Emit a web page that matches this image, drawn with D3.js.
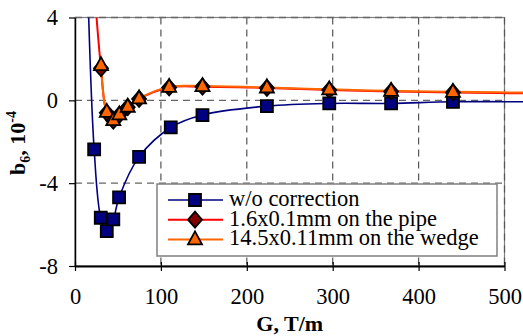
<!DOCTYPE html>
<html>
<head>
<meta charset="utf-8">
<script src="https://cdn.jsdelivr.net/npm/d3@7"></script>
<style>
    body { margin: 0; background: #fff; }
    svg { display: block; }
    svg text { font-family: 'Liberation Serif', 'Times New Roman', serif; }
</style>
</head>
<body>
<div id="chart"></div>
<script>
// G, T/m  and  b6 (units of 1e-4); first/last points lie outside the visible frame
const gBlue = [15, 22.3, 30, 37, 44.6, 51.3, 74.6, 111.5, 148.4, 223.4, 296, 368, 440, 560];
const bBlue = [5.3, -2.37, -5.67, -6.32, -5.75, -4.69, -2.73, -1.31, -0.71, -0.28, -0.15, -0.15, -0.07, -0.08];

const gRed = [22.3, 30.3, 37, 44.6, 51.6, 61.4, 74.6, 109.6, 148.4, 223.4, 296, 368, 440, 560];
const bRed = [5.5, 1.55, -0.6, -0.98, -0.7, -0.33, 0.07, 0.62, 0.66, 0.6, 0.5, 0.43, 0.38, 0.32];

const gOrange = [30.3, 37, 44.6, 51.6, 61.4, 74.6, 109.6, 148.4, 223.4, 296, 368, 440, 560];
const bOrange = [1.7, -0.56, -0.96, -0.68, -0.31, 0.09, 0.65, 0.69, 0.62, 0.53, 0.46, 0.41, 0.36];

const seriesNames = ['w/o correction', '1.6x0.1mm on the pipe', '14.5x0.11mm on the wedge'];
const xTicks = [0, 100, 200, 300, 400, 500];
const yTicks = [-8, -4, 0, 4];

const width = 523, height = 336;
const plot = { left: 75, right: 504.5, top: 17.5, bottom: 266 };

const svg = d3.select('#chart').append('svg')
    .attr('width', width)
    .attr('height', height);

const x = d3.scaleLinear().domain([0, 500]).range([plot.left, plot.right]);
const y = d3.scaleLinear().domain([-8, 4]).range([plot.bottom, plot.top]);

// plot frame
svg.append('rect')
    .attr('x', plot.left).attr('y', plot.top)
    .attr('width', plot.right - plot.left).attr('height', plot.bottom - plot.top)
    .attr('fill', 'none').attr('stroke', '#808080').attr('stroke-width', 1.2);

// dashed grid
svg.append('g').selectAll('line')
    .data(xTicks.slice(1))
    .join('line')
    .attr('x1', d => x(d)).attr('x2', d => x(d))
    .attr('y1', plot.top).attr('y2', plot.bottom)
    .attr('stroke', '#555').attr('stroke-width', 1.2).attr('stroke-dasharray', '7,5');

svg.append('g').selectAll('line')
    .data([0, 4, -4])
    .join('line')
    .attr('x1', plot.left).attr('x2', plot.right)
    .attr('y1', d => y(d)).attr('y2', d => y(d))
    .attr('stroke', '#666').attr('stroke-width', 1.3).attr('stroke-dasharray', '7,5');

// axes
const xAxis = svg.append('g')
    .attr('transform', 'translate(0,' + plot.bottom + ')')
    .call(d3.axisBottom(x).tickValues(xTicks).tickSize(0).tickPadding(0).tickFormat(d3.format('d')));
xAxis.attr('font-family', null).attr('font-size', 22.5);
xAxis.select('.domain').attr('stroke', '#000').attr('stroke-width', 2.2);
xAxis.selectAll('.tick line').remove();
xAxis.selectAll('.tick').append('line')
    .attr('y1', -4).attr('y2', 5).attr('stroke', '#000').attr('stroke-width', 1.2);
xAxis.selectAll('.tick text')
    .attr('y', 38).attr('dy', 0)
    .attr('fill', '#000');

const yAxis = svg.append('g')
    .attr('transform', 'translate(' + plot.left + ',0)')
    .call(d3.axisLeft(y).tickValues(yTicks).tickSizeOuter(0).tickSizeInner(6).tickPadding(11).tickFormat(d => String(d)));
yAxis.attr('font-family', null).attr('font-size', 22.5);
yAxis.select('.domain').attr('stroke', '#000').attr('stroke-width', 1.5);
yAxis.selectAll('.tick line').attr('stroke', '#000').attr('stroke-width', 1.2);
yAxis.selectAll('.tick text').attr('fill', '#000');

// axis titles
svg.append('text')
    .attr('x', (plot.left + plot.right) / 2).attr('y', 331)
    .attr('text-anchor', 'middle')
    .attr('font-size', 22).attr('font-weight', 'bold')
    .text('G, T/m');

const yTitle = svg.append('text')
    .attr('transform', 'translate(25,143) rotate(-90)')
    .attr('text-anchor', 'middle')
    .attr('font-size', 22).attr('font-weight', 'bold');
yTitle.append('tspan').text('b');
yTitle.append('tspan').attr('font-size', 14).attr('dy', 5).text('6');
yTitle.append('tspan').attr('dy', -5).text(', 10');
yTitle.append('tspan').attr('font-size', 14).attr('dy', -9).text('-4');

// series
svg.append('clipPath').attr('id', 'plotClip')
    .append('rect')
    .attr('x', plot.left).attr('y', plot.top)
    .attr('width', width - plot.left).attr('height', plot.bottom - plot.top);

const series = [
    { g: gBlue, b: bBlue, stroke: '#000080', width: 1.6, marker: 'square', fill: '#000080' },
    { g: gRed, b: bRed, stroke: '#ff0000', width: 2, marker: 'diamond', fill: '#800000' },
    { g: gOrange, b: bOrange, stroke: '#ff6600', width: 2, marker: 'triangle', fill: '#ff6600' }
];

const line = d3.line()
    .x(d => x(d[0]))
    .y(d => y(d[1]))
    .curve(d3.curveCatmullRom.alpha(0.5));

function markerPath(type) {
    if (type === 'square') return 'M-6,-6H6V6H-6Z';
    if (type === 'diamond') return 'M0,-8L7,0L0,8L-7,0Z';
    return 'M0,-8L7,5H-7Z';
}

series.forEach(s => {
    const pts = s.g.map((g, i) => [g, s.b[i]]);
    svg.append('path')
        .attr('clip-path', 'url(#plotClip)')
        .attr('d', line(pts))
        .attr('fill', 'none')
        .attr('stroke', s.stroke)
        .attr('stroke-width', s.width);
});

series.forEach(s => {
    const pts = s.g.map((g, i) => [g, s.b[i]]);
    svg.append('g').selectAll('path')
        .data(pts)
        .join('path')
        .attr('transform', d => 'translate(' + x(d[0]) + ',' + y(d[1]) + ')')
        .attr('d', markerPath(s.marker))
        .attr('fill', s.fill)
        .attr('stroke', '#000')
        .attr('stroke-width', 1.8)
        .attr('stroke-linejoin', 'miter');
});

// legend
const legend = svg.append('g');
legend.append('rect')
    .attr('x', 157).attr('y', 184).attr('width', 340).attr('height', 72)
    .attr('fill', '#fff').attr('stroke', '#808080').attr('stroke-width', 1.5);

const rows = legend.selectAll('g.row')
    .data(series)
    .join('g')
    .attr('class', 'row')
    .attr('transform', (d, i) => 'translate(0,' + (200 + i * 19.7) + ')');
rows.append('line')
    .attr('x1', 168).attr('x2', 223)
    .attr('stroke', d => d.stroke).attr('stroke-width', d => d.width);
rows.append('path')
    .attr('transform', 'translate(195,0)')
    .attr('d', d => markerPath(d.marker))
    .attr('fill', d => d.fill)
    .attr('stroke', '#000').attr('stroke-width', 1.8);
rows.append('text')
    .attr('x', 229).attr('y', 6)
    .attr('font-size', 22.5)
    .text((d, i) => seriesNames[i]);
</script>
</body>
</html>
